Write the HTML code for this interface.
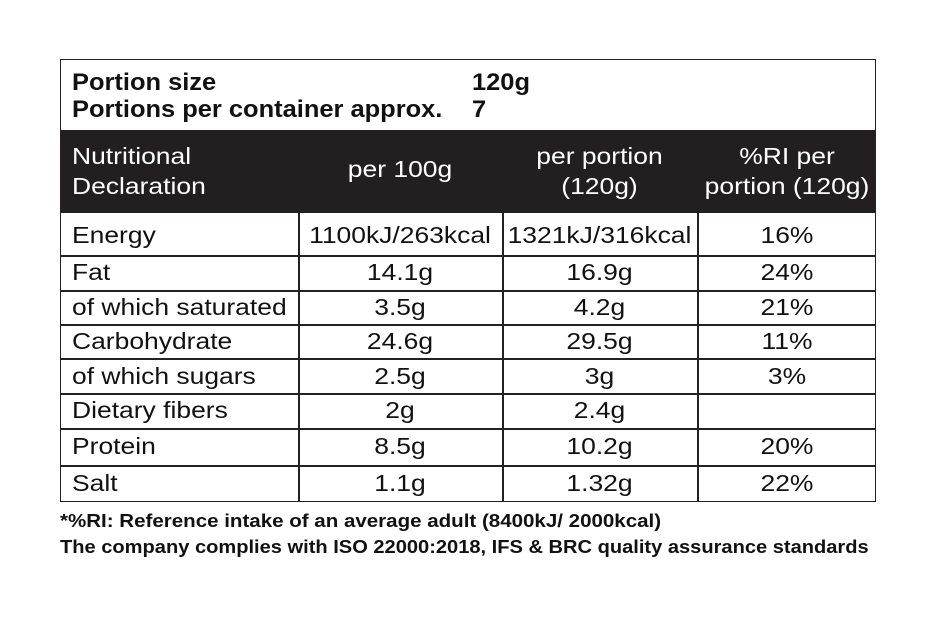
<!DOCTYPE html>
<html><head><style>
body{margin:0;width:935px;height:623px;background:#fff;position:relative;font-family:"Liberation Sans",sans-serif;color:#111;overflow:hidden}
.a{position:absolute;white-space:nowrap}
.h{position:absolute;background:#222}
.t{font-size:23px;transform:scaleX(1.15);transform-origin:left top}
.c{text-align:center;transform-origin:center top}
</style></head><body>
<div style="position:absolute;left:60px;top:59px;width:814px;height:441px;border:1.5px solid #222"></div>
<div style="position:absolute;left:61px;top:130px;width:814px;height:83px;background:#231f20"></div>
<div class="a" style="left:72px;top:69px;font-size:24px;font-weight:bold;line-height:27px;transform:scaleX(1.06);transform-origin:left top">Portion size<br>Portions per container approx.</div>
<div class="a" style="left:472px;top:69px;font-size:24px;font-weight:bold;line-height:27px;transform:scaleX(1.06);transform-origin:left top">120g<br>7</div>
<div class="a t" style="left:72px;top:141px;color:#fff;line-height:30px">Nutritional<br>Declaration</div>
<div class="a t c" style="left:298px;width:204px;top:156px;color:#fff">per 100g</div>
<div class="a t c" style="left:502px;width:195px;top:141px;color:#fff;line-height:30px">per portion<br>(120g)</div>
<div class="a t c" style="left:697px;width:180px;top:141px;color:#fff;line-height:30px">%RI per<br>portion (120g)</div>
<div class="h" style="left:298px;top:213px;width:1.5px;height:288px"></div>
<div class="h" style="left:502px;top:213px;width:1.5px;height:288px"></div>
<div class="h" style="left:697px;top:213px;width:1.5px;height:288px"></div>
<div class="h" style="left:60px;top:255px;width:816px;height:1.5px"></div>
<div class="h" style="left:60px;top:290px;width:816px;height:1.5px"></div>
<div class="h" style="left:60px;top:324px;width:816px;height:1.5px"></div>
<div class="h" style="left:60px;top:358px;width:816px;height:1.5px"></div>
<div class="h" style="left:60px;top:393px;width:816px;height:1.5px"></div>
<div class="h" style="left:60px;top:428px;width:816px;height:1.5px"></div>
<div class="h" style="left:60px;top:465px;width:816px;height:1.5px"></div>

<div class="a t" style="left:72px;top:222px">Energy</div>
<div class="a t c" style="left:298px;width:204px;top:222px">1100kJ/263kcal</div>
<div class="a t c" style="left:502px;width:195px;top:222px">1321kJ/316kcal</div>
<div class="a t c" style="left:697px;width:180px;top:222px">16%</div>

<div class="a t" style="left:72px;top:259px">Fat</div>
<div class="a t c" style="left:298px;width:204px;top:259px">14.1g</div>
<div class="a t c" style="left:502px;width:195px;top:259px">16.9g</div>
<div class="a t c" style="left:697px;width:180px;top:259px">24%</div>

<div class="a t" style="left:72px;top:294px">of which saturated</div>
<div class="a t c" style="left:298px;width:204px;top:294px">3.5g</div>
<div class="a t c" style="left:502px;width:195px;top:294px">4.2g</div>
<div class="a t c" style="left:697px;width:180px;top:294px">21%</div>

<div class="a t" style="left:72px;top:328px">Carbohydrate</div>
<div class="a t c" style="left:298px;width:204px;top:328px">24.6g</div>
<div class="a t c" style="left:502px;width:195px;top:328px">29.5g</div>
<div class="a t c" style="left:697px;width:180px;top:328px">11%</div>

<div class="a t" style="left:72px;top:363px">of which sugars</div>
<div class="a t c" style="left:298px;width:204px;top:363px">2.5g</div>
<div class="a t c" style="left:502px;width:195px;top:363px">3g</div>
<div class="a t c" style="left:697px;width:180px;top:363px">3%</div>

<div class="a t" style="left:72px;top:397px">Dietary fibers</div>
<div class="a t c" style="left:298px;width:204px;top:397px">2g</div>
<div class="a t c" style="left:502px;width:195px;top:397px">2.4g</div>

<div class="a t" style="left:72px;top:433px">Protein</div>
<div class="a t c" style="left:298px;width:204px;top:433px">8.5g</div>
<div class="a t c" style="left:502px;width:195px;top:433px">10.2g</div>
<div class="a t c" style="left:697px;width:180px;top:433px">20%</div>

<div class="a t" style="left:72px;top:470px">Salt</div>
<div class="a t c" style="left:298px;width:204px;top:470px">1.1g</div>
<div class="a t c" style="left:502px;width:195px;top:470px">1.32g</div>
<div class="a t c" style="left:697px;width:180px;top:470px">22%</div>

<div class="a" style="left:60px;top:511px;font-size:18px;font-weight:bold;transform:scaleX(1.14);transform-origin:left top">*%RI: Reference intake of an average adult (8400kJ/ 2000kcal)</div>
<div class="a" style="left:60px;top:537px;font-size:18px;font-weight:bold;transform:scaleX(1.115);transform-origin:left top">The company complies with ISO 22000:2018, IFS &amp; BRC quality assurance standards</div>
</body></html>
